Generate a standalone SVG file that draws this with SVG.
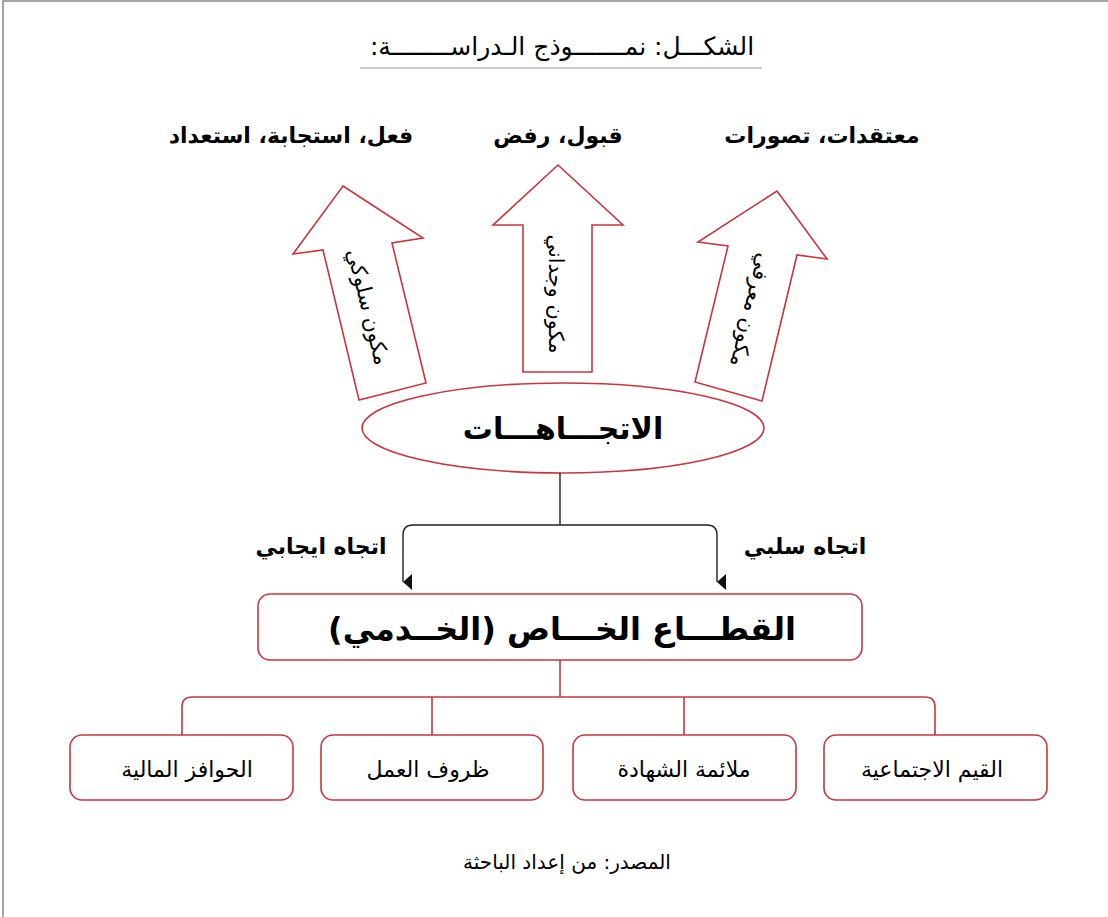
<svg xmlns="http://www.w3.org/2000/svg" width="1108" height="917" viewBox="0 0 1108 917">
<defs>
<style>
text{font-family:"DejaVu Sans","Liberation Sans",sans-serif;fill:#000;text-anchor:middle;direction:rtl}
.red{fill:#fff;stroke:#c8363f;stroke-width:1.6}
.conn{fill:none;stroke:#222;stroke-width:1.4}
.rconn{fill:none;stroke:#c8363f;stroke-width:1.6}
.b{font-weight:bold}
</style>
<marker id="ah" viewBox="0 0 16 9" refX="8" refY="9" markerWidth="16" markerHeight="9" orient="auto-start-reverse" markerUnits="userSpaceOnUse">
<path d="M0,0 L16,0 L8,9 Z" fill="#111"/>
</marker>
</defs>
<rect width="1108" height="917" fill="#fff"/>
<path d="M3,917 V1 H1108" fill="none" stroke="#888" stroke-width="1.5"/>

<g id="title">
<text x="562" y="55" font-size="25">الشكـــل: نمـــــــوذج الـدراســــــــة:</text>
<line x1="360" y1="68" x2="762" y2="68" stroke="#bbb" stroke-width="1.5"/>
</g>

<g id="label-top">
<text class="b" x="822" y="143" font-size="22">معتقدات، تصورات</text>
<text class="b" x="558" y="143" font-size="22">قبول، رفض</text>
<text class="b" x="291" y="143" font-size="22">فعل، استجابة، استعداد</text>
</g>

<g id="arrow-behavioral">
<polygon class="red" points="343,186 423,238 392,243 426,383 359,400 323,250 293,254"/>
<text x="0" y="0" font-size="21" transform="translate(368,307) rotate(76)" dy="7">مكون سلوكي</text>
</g>
<g id="arrow-affective">
<polygon class="red" points="558,165 623,225 592,225 592,372 523,372 523,225 493,225"/>
<text x="0" y="0" font-size="21" transform="translate(556,294) rotate(90)" dy="7">مكون وجداني</text>
</g>
<g id="arrow-cognitive">
<polygon class="red" points="777,191 827,259 797,255 762,401 695,382 728,246 698,242"/>
<text x="0" y="0" font-size="21" transform="translate(751,310) rotate(104)" dy="7">مكون معرفي</text>
</g>

<g id="attitudes">
<ellipse class="red" cx="563" cy="428" rx="201" ry="45"/>
<text class="b" x="563" y="439" font-size="30">الاتجـــاهـــات</text>
</g>

<g id="connectors">
<path class="conn" d="M560,473 V525"/>
<path class="conn" d="M560,525 H413 Q403,525 403,535 V582" marker-end="url(#ah)"/>
<path class="conn" d="M560,525 H707 Q717,525 717,535 V582" marker-end="url(#ah)"/>
<path class="rconn" d="M560,660 V697"/>
<path class="rconn" d="M182,735 V707 Q182,697 192,697 H925 Q935,697 935,707 V735"/>
<path class="rconn" d="M432,697 V735"/>
<path class="rconn" d="M684,697 V735"/>
</g>

<g id="edge-labels">
<text class="b" x="321" y="554" font-size="22">اتجاه ايجابي</text>
<text class="b" x="805" y="554" font-size="22">اتجاه سلبي</text>
</g>

<g id="private-sector">
<rect class="red" x="258" y="594" width="604" height="66" rx="12"/>
<text class="b" x="562" y="640" font-size="32">القطـــاع الخـــاص (الخــدمي)</text>
</g>

<g id="box-financial">
<rect class="red" x="70" y="735" width="223" height="65" rx="12"/>
<text x="187" y="777" font-size="22">الحوافز المالية</text>
</g>
<g id="box-conditions">
<rect class="red" x="321" y="735" width="222" height="65" rx="12"/>
<text x="428" y="777" font-size="22">ظروف العمل</text>
</g>
<g id="box-degree">
<rect class="red" x="573" y="735" width="223" height="65" rx="12"/>
<text x="684" y="777" font-size="22">ملائمة الشهادة</text>
</g>
<g id="box-values">
<rect class="red" x="824" y="735" width="223" height="65" rx="12"/>
<text x="932" y="777" font-size="22">القيم الاجتماعية</text>
</g>

<g id="source">
<text x="567" y="869" font-size="20">المصدر: من إعداد الباحثة</text>
</g>
</svg>
